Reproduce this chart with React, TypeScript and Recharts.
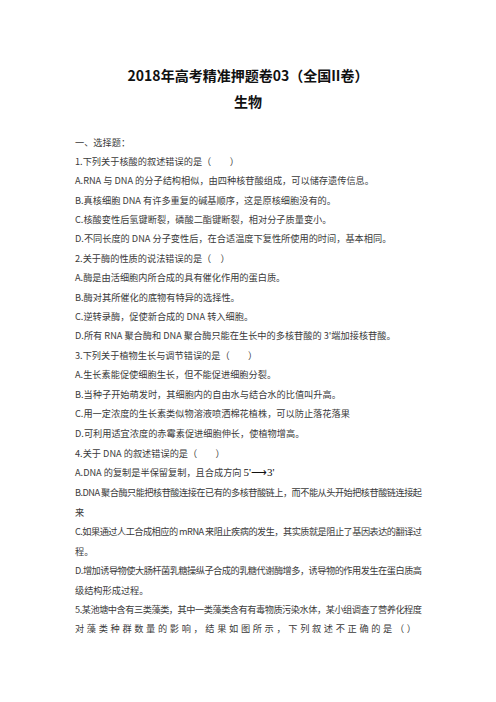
import { Surface } from 'recharts'

const W = 496
const H = 702

const titleLines = ['2018年高考精准押题卷03（全国II卷）', '生物']
const titleYs = [75, 101]

const bodyLines = [
  '一、选择题：',
  '1.下列关于核酸的叙述错误的是（　　）',
  'A.RNA 与 DNA 的分子结构相似，由四种核苷酸组成，可以储存遗传信息。',
  'B.真核细胞 DNA 有许多重复的碱基顺序，这是原核细胞没有的。',
  'C.核酸变性后氢键断裂，磷酸二酯键断裂，相对分子质量变小。',
  'D.不同长度的 DNA 分子变性后，在合适温度下复性所使用的时间，基本相同。',
  '2.关于酶的性质的说法错误的是（　）',
  'A.酶是由活细胞内所合成的具有催化作用的蛋白质。',
  'B.酶对其所催化的底物有特异的选择性。',
  'C.逆转录酶，促使新合成的 DNA 转入细胞。',
  "D.所有 RNA 聚合酶和 DNA 聚合酶只能在生长中的多核苷酸的 3'端加接核苷酸。",
  '3.下列关于植物生长与调节错误的是（　　）',
  'A.生长素能促使细胞生长，但不能促进细胞分裂。',
  'B.当种子开始萌发时，其细胞内的自由水与结合水的比值叫升高。',
  'C.用一定浓度的生长素类似物溶液喷洒棉花植株，可以防止落花落果',
  'D.可利用适宜浓度的赤霉素促进细胞伸长，使植物增高。',
  '4.关于 DNA 的叙述错误的是（　　）',
  'A.DNA 的复制是半保留复制，且合成方向',
  'B.DNA 聚合酶只能把核苷酸连接在已有的多核苷酸链上，而不能从头开始把核苷酸链连接起',
  '来',
  'C.如果通过人工合成相应的 mRNA 来阻止疾病的发生，其实质就是阻止了基因表达的翻译过',
  '程。',
  'D.增加诱导物使大肠杆菌乳糖操纵子合成的乳糖代谢酶增多，诱导物的作用发生在蛋白质高',
  '级结构形成过程。',
  '5.某池塘中含有三类藻类，其中一类藻类含有有毒物质污染水体，某小组调查了营养化程度',
  '对藻类种群数量的影响，结果如图所示，下列叙述不正确的是（）',
]
const bodyYs = [
  142, 161, 180, 200, 219, 238, 258, 277, 297, 316, 335, 355, 374, 394, 413, 433,
  453, 472, 492, 512, 531, 551, 570, 590, 609, 628,
]
// lines stretched to a fixed right edge
const justified = [18, 20, 22, 24, 25]
const justifiedRight = [422, 422, 422, 422, 416]

const textLeft = 75

export default function App() {
  return (
    <div style={{ position: 'absolute', top: 0, left: 0, width: W, height: H, background: '#fff' }}>
      <Surface width={W} height={H} viewBox={{ x: 0, y: 0, width: W, height: H }}>
        {titleLines.map((t, i) => (
          <text
            key={t}
            x={W / 2}
            y={titleYs[i]}
            textAnchor="middle"
            dominantBaseline="central"
            fontFamily="'Noto Sans CJK SC', sans-serif"
            fontWeight={700}
            fontSize={14}
            fill="#111"
          >
            {t}
          </text>
        ))}
        {bodyLines.map((t, i) => {
          const j = justified.indexOf(i)
          return (
            <text
              key={i}
              x={textLeft}
              y={bodyYs[i]}
              dominantBaseline="central"
              fontFamily="'Noto Sans CJK SC', sans-serif"
              fontSize={9.2}
              fill="#3a3a3a"
              {...(j >= 0 ? { textLength: justifiedRight[j] - textLeft, lengthAdjust: 'spacing' } : {})}
            >
              {t}
              {i === 17 ? (
                <tspan fontFamily="'Liberation Serif', serif" fontSize={11} fill="#111" dx={2}>
                  5'⟶3'
                </tspan>
              ) : null}
            </text>
          )
        })}
      </Surface>
    </div>
  )
}
